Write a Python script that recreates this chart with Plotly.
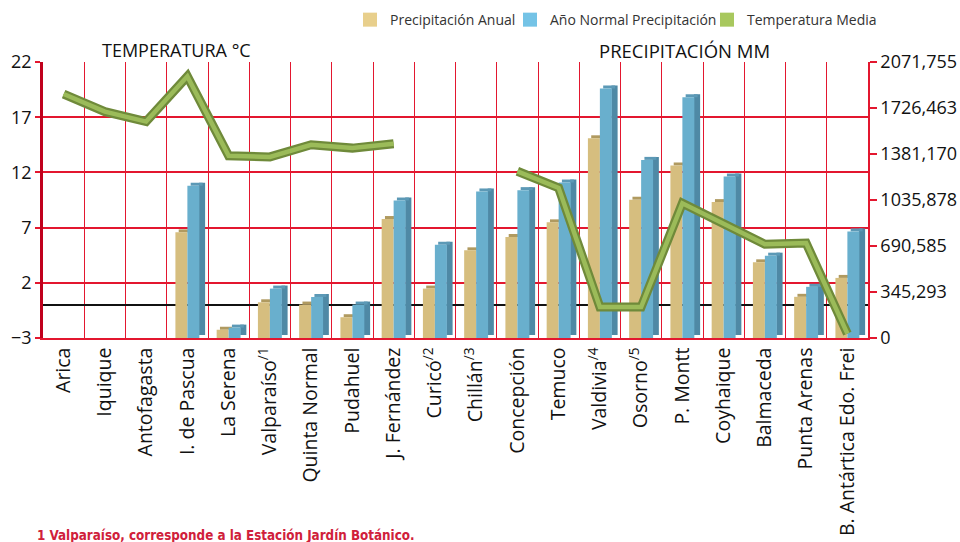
import plotly.graph_objects as go

# ---------------- data ----------------
categories = ["Arica", "Iquique", "Antofagasta", "I. de Pascua", "La Serena",
              "Valparaíso<sup>/1</sup>", "Quinta Normal", "Pudahuel", "J. Fernández",
              "Curicó<sup>/2</sup>", "Chillán<sup>/3</sup>", "Concepción", "Temuco",
              "Valdivia<sup>/4</sup>", "Osorno<sup>/5</sup>", "P. Montt", "Coyhaique",
              "Balmaceda", "Punta Arenas", "B. Antártica Edo. Frei"]

precip_anual = [None, None, None, 793, 62, 268, 251, 156, 893, 371, 658,
                758, 868, 1499, 1038, 1295, 1020, 568, 309, 451]
precip_normal = [None, None, None, 1143, 78, 371, 308, 251, 1032, 700, 1100,
                 1110, 1167, 1873, 1337, 1807, 1212, 618, 384, 800]
temp_media = [19.1, 17.5, 16.6, 20.7, 13.5, 13.4, 14.5, 14.2, 14.6, None, None,
              12.1, 10.6, -0.2, -0.2, 9.2, 7.4, 5.5, 5.6, -2.6]

temp_ticks = [-3, 2, 7, 12, 17, 22]
precip_ticks = [0, 345.2925, 690.585, 1035.8775, 1381.17, 1726.4625, 2071.755]
precip_ticktext = ["0", "345,293", "690,585", "1035,878", "1381,170", "1726,463", "2071,755"]

series_names = ["Precipitación Anual", "Año Normal Precipitación", "Temperatura Media"]

# ---------------- styling ----------------
FONT = "Open Sans, Lato, DejaVu Sans, sans-serif"
RED = "#e3172f"
TAN = "#d6be7f"
TAN_TOP = "#b09a60"
BLUE = "#69afcd"
BLUE_SIDE = "#4f89a5"
BLUE_TOP = "#5c99b6"
GREEN = "#9bbb59"
GREEN_DARK = "#6f8a3a"
LEGEND_COLORS = ["#e8cf8c", "#74c3e6", "#a8c85e"]
LEGEND_X = [350, 510, 707]   # left edge of each legend box (px)

P_MAX = precip_ticks[-1]
RISE = P_MAX * 3.0 / 276.0   # 3-D depth (3 px) in data units
FW = 0.29                    # front face width (category units)
SW = 0.15                    # side face width
SHIFT = 0.08                 # top-face skew

x = list(range(len(categories)))


def const(v, c):
    return [None if a is None else c for a in v]


fig = go.Figure()

# tan bars: top cap then front
fig.add_trace(go.Bar(x=x, y=const(precip_anual, RISE), base=precip_anual, offset=-FW + SHIFT,
                     width=FW, marker=dict(color=TAN_TOP, line_width=0), yaxis="y",
                     showlegend=False, hoverinfo="skip"))
fig.add_trace(go.Bar(x=x, y=precip_anual, offset=-FW, width=FW, name=series_names[0],
                     marker=dict(color=TAN, line_width=0), yaxis="y", showlegend=False))
# blue bars: side, top cap, front
fig.add_trace(go.Bar(x=x, y=precip_normal, base=const(precip_normal, RISE), offset=FW - 0.01,
                     width=SW, marker=dict(color=BLUE_SIDE, line_width=0), yaxis="y",
                     showlegend=False, hoverinfo="skip"))
fig.add_trace(go.Bar(x=x, y=const(precip_normal, RISE), base=precip_normal, offset=SHIFT,
                     width=FW, marker=dict(color=BLUE_TOP, line_width=0), yaxis="y",
                     showlegend=False, hoverinfo="skip"))
fig.add_trace(go.Bar(x=x, y=precip_normal, offset=0, width=FW, name=series_names[1],
                     marker=dict(color=BLUE, line_width=0), yaxis="y", showlegend=False))

# temperature line (3-D look)
fig.add_trace(go.Scatter(x=x, y=temp_media, mode="lines", yaxis="y2",
                         line=dict(color=GREEN_DARK, width=9), connectgaps=False,
                         showlegend=False, hoverinfo="skip"))
fig.add_trace(go.Scatter(x=x, y=temp_media, mode="lines", yaxis="y2",
                         line=dict(color=GREEN, width=4.5), connectgaps=False,
                         name=series_names[2], showlegend=False))

# legend swatches (square markers), one legend box per entry
legend_keys = ["legend", "legend2", "legend3"]
for name, col, key in zip(series_names, LEGEND_COLORS, legend_keys):
    fig.add_trace(go.Scatter(x=[None], y=[None], mode="markers", name=name, yaxis="y",
                             legend=key,
                             marker=dict(symbol="square", size=14, color=col, line_width=0)))

legend_common = dict(orientation="h", xref="container", yref="container", y=0.963,
                     xanchor="left", yanchor="middle", itemwidth=30,
                     font=dict(size=14, family=FONT, color="#333333"),
                     bgcolor="rgba(0,0,0,0)")

fig.update_layout(
    width=960, height=542,
    margin=dict(l=43, r=92, t=62, b=204),
    paper_bgcolor="white", plot_bgcolor="white",
    barmode="overlay",
    font=dict(family=FONT, color="#111111", size=18),
    xaxis=dict(
        range=[-0.5, len(categories) - 0.5], automargin=False,
        tickmode="array", tickvals=x, ticktext=categories,
        tickangle=-90, ticks="", showgrid=False, zeroline=False,
        showline=True, linecolor=RED, linewidth=1.5,
        tickfont=dict(size=19.5, family=FONT, color="#111111"),
        minor=dict(tickmode="array", tickvals=[i + 0.5 for i in x[:-1]],
                   showgrid=True, gridcolor=RED, gridwidth=1, ticks=""),
    ),
    yaxis=dict(
        side="right", range=[0, P_MAX], automargin=False,
        tickmode="array", tickvals=precip_ticks, ticktext=precip_ticktext,
        showgrid=False, zeroline=False,
        showline=True, linecolor=RED, linewidth=1.5,
        ticks="outside", ticklen=7, tickcolor=RED, tickwidth=1.5,
        tickfont=dict(size=18, family=FONT, color="#111111"),
    ),
    yaxis2=dict(
        overlaying="y", side="left", range=[-3, 22], automargin=False,
        tickmode="array", tickvals=temp_ticks,
        showgrid=True, gridcolor=RED, gridwidth=1.5,
        zeroline=True, zerolinecolor="#111111", zerolinewidth=1.5,
        showline=True, linecolor="#c0001c", linewidth=2.5,
        ticks="outside", ticklen=5, tickcolor=RED, tickwidth=1.5,
        tickfont=dict(size=18, family=FONT, color="#111111"),
    ),
    legend=dict(legend_common, x=LEGEND_X[0] / 960),
    legend2=dict(legend_common, x=LEGEND_X[1] / 960),
    legend3=dict(legend_common, x=LEGEND_X[2] / 960),
    annotations=[
        dict(text="TEMPERATURA °C", xref="paper", yref="paper", x=(176 - 43) / 825,
             y=1 + 12 / 276.0, xanchor="center", yanchor="middle", showarrow=False,
             font=dict(size=18, family=FONT, color="#111111")),
        dict(text="PRECIPITACIÓN MM", xref="paper", yref="paper", x=(684 - 43) / 825,
             y=1 + 12 / 276.0, xanchor="center", yanchor="middle", showarrow=False,
             font=dict(size=18.5, family=FONT, color="#111111")),
        dict(text="<b>1 Valparaíso, corresponde a la Estación Jardín Botánico.</b>",
             xref="paper", yref="paper", x=(35 - 43) / 825, y=(338 - 535) / 276.0,
             xanchor="left", yanchor="middle", showarrow=False,
             font=dict(size=13.3, family="Liberation Sans Narrow, DejaVu Sans Condensed, sans-serif",
                       color="#d0203a")),
    ],
)

fig.write_html("out.html", config={"displayModeBar": False},
               post_script="document.body.style.margin='0';document.body.style.padding='0';")
